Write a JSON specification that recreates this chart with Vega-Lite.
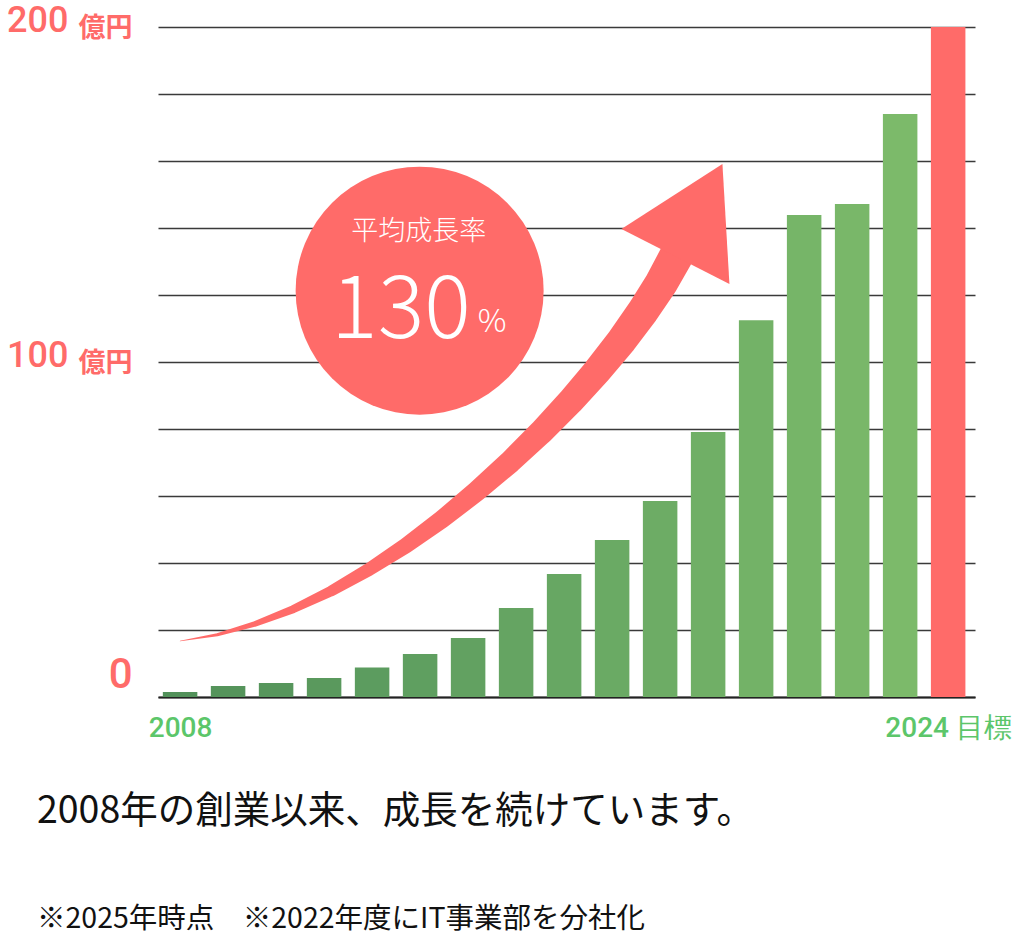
{
  "$schema": "https://vega.github.io/schema/vega-lite/v6.json",
  "width": 817,
  "height": 670,
  "autosize": {"type": "none"},
  "padding": {"left": 158, "top": 27, "right": 50, "bottom": 241},
  "background": "white",
  "config": {"view": {"stroke": null}, "font": "Noto Sans CJK JP"},
  "title": {
    "text": "2008年の創業以来、成長を続けています。",
    "subtitle": "※2025年時点　※2022年度にIT事業部を分社化",
    "orient": "bottom",
    "anchor": "start",
    "frame": "group",
    "dx": -121,
    "offset": 51,
    "font": "Noto Sans CJK JP",
    "fontSize": 37.5,
    "fontWeight": "normal",
    "color": "#111111",
    "subtitleFont": "Noto Sans CJK JP",
    "subtitleFontSize": 28.5,
    "subtitleColor": "#111111",
    "subtitlePadding": 74
  },
  "datasets": {
    "sales": [
      {"year": 2008, "sales": 1.5},
      {"year": 2009, "sales": 3.3},
      {"year": 2010, "sales": 4.2},
      {"year": 2011, "sales": 5.7},
      {"year": 2012, "sales": 8.8},
      {"year": 2013, "sales": 12.8},
      {"year": 2014, "sales": 17.6},
      {"year": 2015, "sales": 26.6},
      {"year": 2016, "sales": 36.7},
      {"year": 2017, "sales": 46.9},
      {"year": 2018, "sales": 58.5},
      {"year": 2019, "sales": 79.1},
      {"year": 2020, "sales": 112.5},
      {"year": 2021, "sales": 143.9},
      {"year": 2022, "sales": 147.2},
      {"year": 2023, "sales": 174.0},
      {"year": 2024, "sales": 200}
    ],
    "arrow": [
      {"x": 2008.0, "y": 16.72},
      {"x": 2008.774, "y": 18.6},
      {"x": 2009.562, "y": 21.82},
      {"x": 2010.356, "y": 26.21},
      {"x": 2011.148, "y": 31.64},
      {"x": 2011.934, "y": 38.06},
      {"x": 2012.702, "y": 45.16},
      {"x": 2013.451, "y": 53.01},
      {"x": 2014.177, "y": 61.4},
      {"x": 2014.87, "y": 70.12},
      {"x": 2015.527, "y": 79.16},
      {"x": 2016.134, "y": 88.27},
      {"x": 2016.696, "y": 97.43},
      {"x": 2017.202, "y": 106.45},
      {"x": 2017.644, "y": 115.19},
      {"x": 2018.023, "y": 123.52},
      {"x": 2018.323, "y": 131.34}
    ]
  },
  "resolve": {"scale": {"y": "shared", "x": "shared"}, "axis": {"y": "independent", "x": "independent"}},
  "layer": [
    {
      "data": {"name": "sales"},
      "mark": {"type": "bar", "size": 34.5},
      "encoding": {
        "x": {
          "field": "year",
          "type": "quantitative",
          "scale": {"domain": [2007.644, 2024.455], "nice": false, "zero": false},
          "axis": {
            "values": [2008, 2024],
            "labelExpr": "datum.value == 2024 ? '2024 目標' : '2008'",
            "labelColor": "#5cc66a",
            "labelFont": "Roboto",
            "labelFontWeight": 500,
            "labelFontSize": 28,
            "labelPadding": 17,
            "labelBaseline": "top",
            "labelFlush": false,
            "labelOverlap": false,
            "labelBound": false,
            "ticks": false,
            "domain": true,
            "domainColor": "#222222",
            "domainWidth": 2,
            "grid": false,
            "title": null
          }
        },
        "y": {
          "field": "sales",
          "type": "quantitative",
          "scale": {"domain": [0, 200], "nice": false},
          "axis": {
            "orient": "left",
            "values": [0, 20, 40, 60, 80, 100, 120, 140, 160, 180, 200],
            "grid": true,
            "gridColor": "#3a3a3a",
            "gridWidth": 1.5,
            "domain": false,
            "ticks": false,
            "labelOverlap": false,
            "labelBound": false,
            "labelExpr": "datum.value == 0 || datum.value == 100 || datum.value == 200 ? datum.label : ''",
            "labelFont": "Roboto",
            "labelFontWeight": 500,
            "labelColor": "#ff6b69",
            "labelAlign": "right",
            "labelBaseline": "middle",
            "labelFontSize": {"condition": {"test": "datum.value == 0", "value": 42}, "value": 36},
            "labelPadding": {"condition": {"test": "datum.value == 0", "value": 26}, "value": 90},
            "labelOffset": {"condition": {"test": "datum.value == 0", "value": -23}, "value": -7},
            "title": null
          }
        },
        "color": {
          "field": "year",
          "type": "quantitative",
          "condition": {"test": "datum.year == 2024", "value": "#ff6b69"},
          "scale": {"domain": [2008, 2023], "range": ["#52915a", "#7cba6a"]},
          "legend": null
        }
      }
    },
    {
      "data": {"name": "arrow"},
      "mark": {"type": "trail", "color": "#ff6b69"},
      "encoding": {
        "x": {"field": "x", "type": "quantitative", "axis": null},
        "y": {"field": "y", "type": "quantitative", "axis": null},
        "size": {
          "field": "x",
          "type": "quantitative",
          "scale": {"type": "pow", "exponent": 0.7, "domain": [2008, 2018.323], "range": [0.5, 34]},
          "legend": null
        }
      }
    },
    {
      "data": {"values": [{"x": 2018.646, "y": 140.7}]},
      "mark": {
        "type": "point",
        "shape": "M -0.996 0.047 L 0.447 -0.881 L 0.547 0.833 Z",
        "filled": true,
        "opacity": 1,
        "size": 19600,
        "color": "#ff6b69",
        "strokeWidth": 0
      },
      "encoding": {
        "x": {"field": "x", "type": "quantitative", "axis": null},
        "y": {"field": "y", "type": "quantitative", "axis": null}
      }
    },
    {
      "data": {"values": [{"x": 2012.99, "y": 121.3, "unit": "億円"}]},
      "mark": {"type": "point", "shape": "circle", "filled": true, "opacity": 1, "size": 61504, "color": "#ff6b69", "strokeWidth": 0},
      "encoding": {
        "x": {"field": "x", "type": "quantitative", "axis": null},
        "y": {
          "field": "y",
          "type": "quantitative",
          "axis": {
            "orient": "left",
            "values": [100, 200],
            "grid": false,
            "domain": false,
            "ticks": false,
            "labelExpr": "'億円'",
            "labelFont": "Noto Sans CJK JP",
            "labelFontWeight": "bold",
            "labelFontSize": 27,
            "labelColor": "#ff6b69",
            "labelPadding": 26,
            "labelAlign": "right",
            "labelBaseline": "middle",
            "labelOffset": 1,
            "labelOverlap": false,
            "labelBound": false,
            "title": null
          }
        }
      }
    },
    {
      "data": {"values": [{"x": 2012.97, "y": 138.8, "t": "平均成長率"}]},
      "mark": {"type": "text", "font": "Noto Sans CJK JP", "fontWeight": 300, "fontSize": 27, "color": "white", "align": "center", "baseline": "middle"},
      "encoding": {
        "x": {"field": "x", "type": "quantitative", "axis": null},
        "y": {"field": "y", "type": "quantitative", "axis": null},
        "text": {"field": "t"}
      }
    },
    {
      "data": {"values": [{"x": 2012.6, "y": 107.2, "t": "130"}]},
      "mark": {"type": "text", "font": "Noto Sans CJK JP", "fontWeight": 300, "fontSize": 87, "color": "white", "align": "center", "baseline": "alphabetic"},
      "encoding": {
        "x": {"field": "x", "type": "quantitative", "axis": null},
        "y": {"field": "y", "type": "quantitative", "axis": null},
        "text": {"field": "t"}
      }
    },
    {
      "data": {"values": [{"x": 2014.5, "y": 109, "t": "%"}]},
      "mark": {"type": "text", "font": "Noto Sans CJK JP", "fontWeight": 300, "fontSize": 32, "color": "white", "align": "center", "baseline": "alphabetic"},
      "encoding": {
        "x": {"field": "x", "type": "quantitative", "axis": null},
        "y": {"field": "y", "type": "quantitative", "axis": null},
        "text": {"field": "t"}
      }
    }
  ]
}
